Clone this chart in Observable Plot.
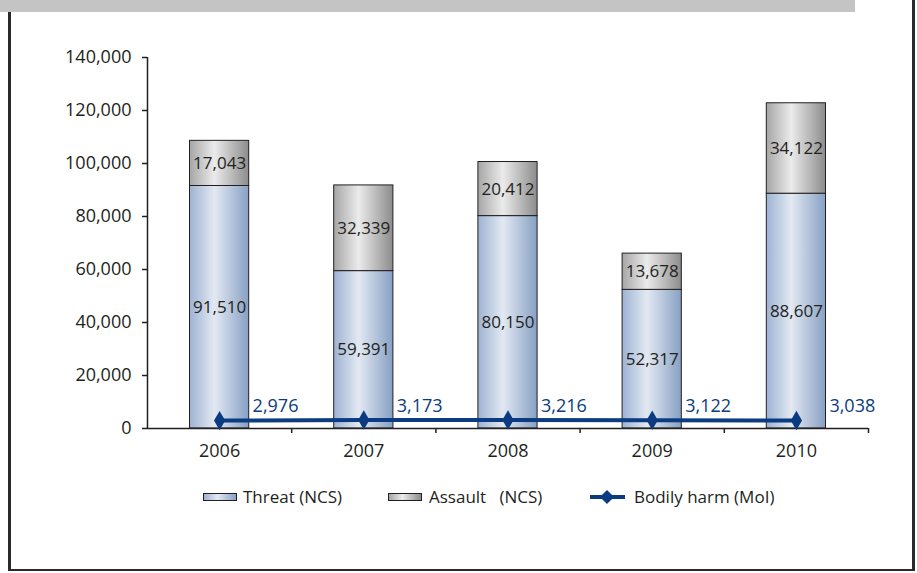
<!DOCTYPE html>
<html>
<head>
<meta charset="utf-8">
<script src="https://cdn.jsdelivr.net/npm/d3@7"></script>
<script src="https://cdn.jsdelivr.net/npm/@observablehq/plot@0.6"></script>
<style>
  html, body { margin: 0; padding: 0; background: #fff; }
  #wrap { position: relative; width: 917px; height: 573px; overflow: hidden; font-family: "Open Sans", sans-serif; color: #231f20; }
  .abs { position: absolute; }
  #chart { position: absolute; left: 0; top: 0; }
  .leg { position: absolute; font-size: 17px; line-height: 20px; white-space: pre; }
  .sw { position: absolute; box-sizing: border-box; border: 1px solid #231f20; }
</style>
</head>
<body>
<div id="wrap">
  <div class="abs" style="left:0;top:0;width:855px;height:12px;background:#c4c4c4"></div>
  <div class="abs" style="left:8px;top:12px;width:3px;height:559px;background:#2a2a2a"></div>
  <div class="abs" style="left:912px;top:0;width:3px;height:571px;background:#2a2a2a"></div>
  <div class="abs" style="left:8px;top:569px;width:907px;height:2px;background:#2a2a2a"></div>
  <div id="chart"></div>
  <div id="legend"></div>
</div>
<script>
const years = [2006, 2007, 2008, 2009, 2010];
const threat = [91510, 59391, 80150, 52317, 88607];
const assault = [17043, 32339, 20412, 13678, 34122];
const bodilyHarm = [2976, 3173, 3216, 3122, 3038];
const yTicks = [0, 20000, 40000, 60000, 80000, 100000, 120000, 140000];
const seriesNames = ["Threat (NCS)", "Assault   (NCS)", "Bodily harm (MoI)"];

const navy = "#0b3b80";
const fmt = d3.format(",");

const segs = [];
years.forEach((y, i) => {
  segs.push({year: y, series: "threat", y1: 0, y2: threat[i], v: threat[i]});
  segs.push({year: y, series: "assault", y1: threat[i], y2: threat[i] + assault[i], v: assault[i]});
});
const harm = years.map((y, i) => ({year: y, v: bodilyHarm[i]}));

const plot = Plot.plot({
  width: 917,
  height: 470,
  marginLeft: 147,
  marginRight: 49,
  marginTop: 57,
  marginBottom: 42,
  style: {fontFamily: "Open Sans, sans-serif", fontSize: "18px", color: "#231f20", background: "transparent"},
  x: {domain: [years[0] - 0.5, years[years.length - 1] + 0.5], axis: null, label: null},
  y: {domain: [0, 140000], axis: null, label: null},
  marks: [
    Plot.rectY(segs, {
      x1: d => d.year - 0.5, x2: d => d.year + 0.5, y1: "y1", y2: "y2",
      insetLeft: 42.5, insetRight: 42.5,
      fill: d => d.series === "threat" ? "url(#gBlue)" : "url(#gGrey)",
      stroke: "#231f20", strokeWidth: 1
    }),
    Plot.text(segs, {
      x: "year", y: d => (d.y1 + d.y2) / 2, text: d => fmt(d.v),
      fontSize: 17, fill: "#231f20"
    }),
    Plot.ruleY([0], {stroke: "#231f20", strokeWidth: 1.5}),
    Plot.ruleX([years[0] - 0.5], {y1: 0, y2: 140000, stroke: "#231f20", strokeWidth: 1.5}),
    Plot.axisY({ticks: yTicks, tickSize: 5, tickPadding: 11, tickFormat: fmt, fontSize: 18, stroke: "#231f20", strokeWidth: 1.5, label: null}),
    Plot.axisX({ticks: years.map(y => y + 0.5), tickSize: 5, tickFormat: () => "", stroke: "#231f20", strokeWidth: 1.5, label: null}),
    Plot.axisX({ticks: years, tickSize: 0, tickPadding: 16, tickFormat: d => String(d), fontSize: 18, label: null}),
    Plot.line(harm, {x: "year", y: "v", stroke: navy, strokeWidth: 4}),
    Plot.dot(harm, {x: "year", y: "v", symbol: "diamond", r: 5.9, fill: navy, stroke: "none"}),
    Plot.text(harm, {x: "year", y: "v", text: d => fmt(d.v), dx: 33, dy: -14, textAnchor: "start", fontSize: 18, fill: navy})
  ]
});

const svg = d3.select(plot);
const defs = svg.insert("defs", ":first-child");
function grad(id, stops) {
  const g = defs.append("linearGradient").attr("id", id).attr("x1", "0%").attr("x2", "100%").attr("y1", "0%").attr("y2", "0%");
  stops.forEach(([o, c]) => g.append("stop").attr("offset", o).attr("stop-color", c));
}
grad("gBlue", [["0%", "#9db3d3"], ["42%", "#e3e9f2"], ["100%", "#87a0c4"]]);
grad("gGrey", [["0%", "#a6a6a6"], ["42%", "#ebebeb"], ["100%", "#8c8c8c"]]);
document.getElementById("chart").appendChild(plot);

// legend
const wrap = document.getElementById("wrap");
function addSwatch(left, bg) {
  const s = document.createElement("div");
  s.className = "sw";
  s.style.cssText = `left:${left}px;top:493px;width:34px;height:8px;background:${bg}`;
  wrap.appendChild(s);
}
function addText(left, t) {
  const s = document.createElement("div");
  s.className = "leg";
  s.style.cssText = `left:${left}px;top:487px`;
  s.textContent = t;
  wrap.appendChild(s);
}
addSwatch(203, "linear-gradient(to right, #9db3d3, #e3e9f2 42%, #87a0c4)");
addText(243, seriesNames[0]);
addSwatch(388, "linear-gradient(to right, #a6a6a6, #ebebeb 42%, #8c8c8c)");
addText(429, seriesNames[1]);
const ln = document.createElement("div");
ln.className = "abs";
ln.style.cssText = `left:590px;top:495px;width:35px;height:4px;background:${navy}`;
wrap.appendChild(ln);
const dm = document.createElement("div");
dm.className = "abs";
dm.style.cssText = `left:602px;top:492px;width:10px;height:10px;background:${navy};transform:rotate(45deg)`;
wrap.appendChild(dm);
addText(634, seriesNames[2]);
</script>
</body>
</html>
